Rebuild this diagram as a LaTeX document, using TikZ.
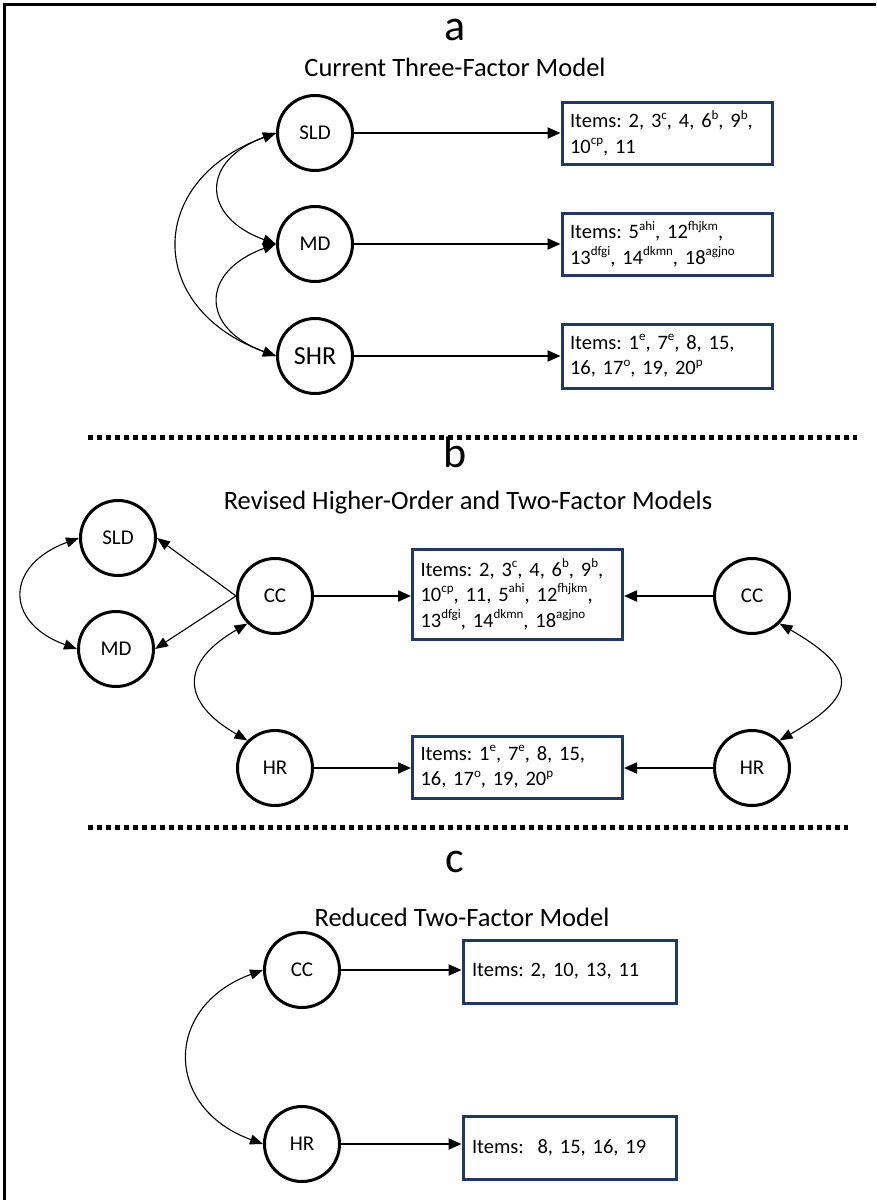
\documentclass[tikz,border=0pt]{standalone}
\usepackage{fontspec}
\setmainfont{Carlito}
\usetikzlibrary{arrows.meta}

\definecolor{boxblue}{RGB}{32,56,100}

% item letters set small and raised
\newcommand{\itm}[2]{#1\raisebox{0.42em}{\fontsize{13}{13}\selectfont #2}}

\tikzset{
    factor/.style={circle, draw, line width=3pt, minimum size=75pt, inner sep=0pt,
        font=\fontsize{21}{25}\selectfont},
    items/.style={draw=boxblue, line width=3pt, align=left, text width=194pt,
        inner xsep=8pt, inner ysep=0pt, font=\fontsize{20.5}{25.5}\selectfont\frenchspacing},
    load/.style={line width=2.2pt, -{Triangle[length=13pt,width=11pt]}},
    path/.style={line width=1.1pt, -{Triangle[length=13pt,width=10pt]}},
    cov/.style={line width=1.1pt,
        {Triangle[length=13pt,width=10pt]}-{Triangle[length=13pt,width=10pt]}},
    sep/.style={line width=5pt, dash pattern=on 5pt off 4pt},
    panel/.style={font=\fontsize{44}{44}\selectfont},
    heading/.style={font=\fontsize{26.5}{30}\selectfont},
}

\begin{document}
\begin{tikzpicture}[x=1pt, y=1pt]
    \useasboundingbox (0,0) rectangle (876,-1200);
    \draw[line width=3pt] (4.5,-1200) -- (4.5,-4) -- (876,-4);

    % three-factor model
    \node (lbla) [panel] at (455,-30) {a};
    \node (ttla) [heading] at (455,-67) {Current Three-Factor Model};

    \node (sld) [factor] at (315,-133) {SLD};
    \node (md) [factor] at (315,-244) {MD};
    \node (shr) [factor, font=\fontsize{26}{30}\selectfont] at (315,-356) {SHR};

    \node (sldit) [items, minimum height=62pt] at (667,-133)
        {Items: 2, \itm{3}{c}, 4, \itm{6}{b}, \itm{9}{b},\\
         \itm{10}{cp}, 11};
    \node (mdit) [items, minimum height=62pt] at (667,-244)
        {Items: \itm{5}{ahi}, \itm{12}{fhjkm},\\
         \itm{13}{dfgi}, \itm{14}{dkmn}, \itm{18}{agjno}};
    \node (shrit) [items, minimum height=64pt] at (667,-356)
        {Items: \itm{1}{e}, \itm{7}{e}, 8, 15,\\
         16, \itm{17}{o}, 19, \itm{20}{p}};

    \draw[load] (sld.east) -- (sldit.west);
    \draw[load] (md.east) -- (mdit.west);
    \draw[load] (shr.east) -- (shrit.west);

    \draw[cov] (sld.west) to[out=200, in=160, looseness=1.85] (md.west);
    \draw[cov] (md.west) to[out=200, in=160, looseness=1.85] (shr.west);
    \draw[cov] (sld.west) to[out=200, in=160, looseness=1.6] (shr.west);

    \draw[sep] (88,-437) -- (857,-437);

    % higher-order and two-factor models
    \node (lblb) [panel] at (455,-452) {b};
    \node (ttlb) [heading] at (468,-503) {Revised Higher-Order and Two-Factor Models};

    \node (sldb) [factor] at (118,-538) {SLD};
    \node (mdb) [factor] at (116,-649) {MD};
    \node (cc) [factor] at (275,-596) {CC};
    \node (hr) [factor] at (275,-768) {HR};
    \node (ccr) [factor] at (752,-596) {CC};
    \node (hrr) [factor] at (752,-768) {HR};

    \node (ccit) [items, minimum height=90pt] at (517.5,-594)
        {Items: 2, \itm{3}{c}, 4, \itm{6}{b}, \itm{9}{b},\\
         \itm{10}{cp}, 11, \itm{5}{ahi}, \itm{12}{fhjkm},\\
         \itm{13}{dfgi}, \itm{14}{dkmn}, \itm{18}{agjno}};
    \node (hrit) [items, minimum height=62pt] at (517.5,-767)
        {Items: \itm{1}{e}, \itm{7}{e}, 8, 15,\\
         16, \itm{17}{o}, 19, \itm{20}{p}};

    \draw[path] (cc.west) -- (sldb.east);
    \draw[path] (cc.west) -- (mdb.east);
    \draw[load] (cc.east) -- (cc.east -| ccit.west);
    \draw[load] (hr.east) -- (hr.east -| hrit.west);
    \draw[load] (ccr.west) -- (ccr.west -| ccit.east);
    \draw[load] (hrr.west) -- (hrr.west -| hrit.east);

    \draw[cov] (sldb.west) to[out=200, in=160, looseness=1.8] (mdb.west);
    \draw[cov] (cc.225) to[out=210, in=150, looseness=1.7] (hr.135);
    \draw[cov] (ccr.-45) to[out=-30, in=30, looseness=2.0] (hrr.45);

    \draw[sep] (88,-827) -- (848,-827);

    % reduced two-factor model
    \node (lblc) [panel] at (455,-862) {c};
    \node (ttlc) [heading] at (462,-917) {Reduced Two-Factor Model};

    \node (ccc) [factor] at (302,-970) {CC};
    \node (hrc) [factor] at (302,-1144) {HR};

    \node (cccit) [items, text width=195pt, inner xsep=9pt, minimum height=63pt] at (569.5,-971.5)
        {Items: 2, 10, 13, 11};
    \node (hrcit) [items, text width=195pt, inner xsep=9pt, minimum height=63pt] at (569.5,-1148)
        {Items:~ 8, 15, 16, 19};

    \draw[load] (ccc.east) -- (ccc.east -| cccit.west);
    \draw[load] (hrc.east) -- (hrc.east -| hrcit.west);

    \draw[cov] (ccc.west) to[out=200, in=160, looseness=1.56] (hrc.west);
\end{tikzpicture}
\end{document}
